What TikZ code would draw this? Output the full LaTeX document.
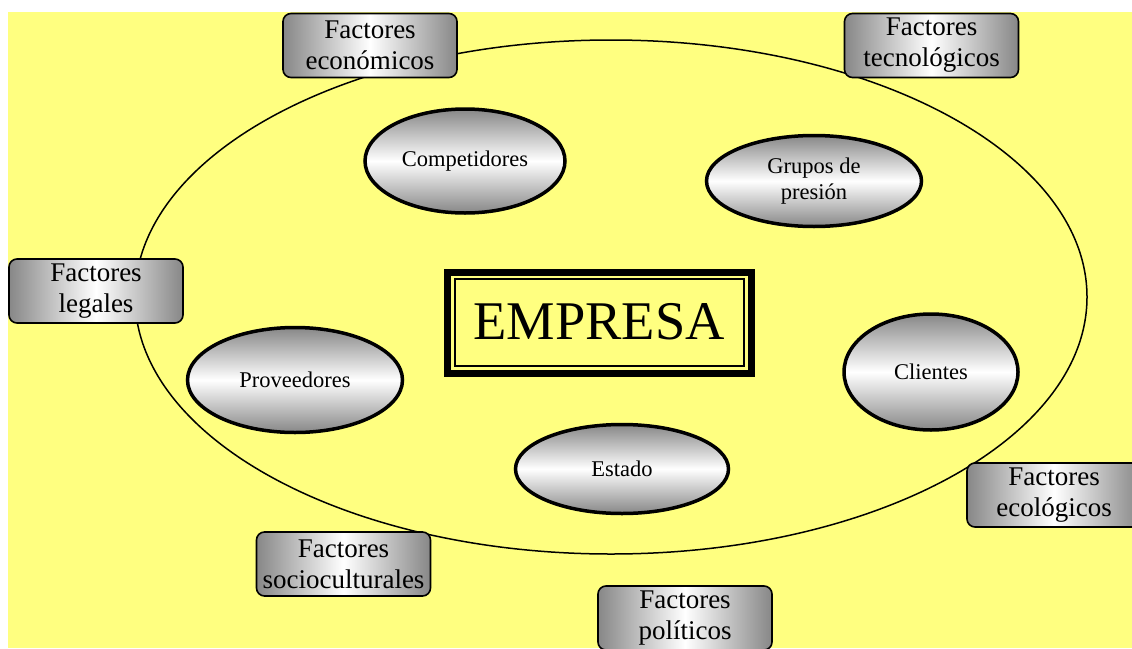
\documentclass[tikz,border=0pt]{standalone}
\usepackage{fontspec}
\setmainfont{Liberation Serif}
\usetikzlibrary{shapes.geometric}
\definecolor{bgyellow}{RGB}{255,255,128}
\definecolor{shadegray}{RGB}{135,135,135}
\tikzset{
  factorbox/.style={draw=black, line width=1.6pt, rounded corners=8pt,
    minimum width=174pt, minimum height=64pt, inner sep=0pt, align=center,
    left color=shadegray, right color=shadegray, middle color=white,
    font=\fontsize{27}{31}\selectfont},
  actor/.style={ellipse, draw=black, line width=3.5pt, inner sep=0pt, align=center,
    top color=shadegray, bottom color=shadegray, middle color=white,
    font=\fontsize{22.5}{26}\selectfont},
}
\begin{document}
\begin{tikzpicture}[x=1pt,y=-1pt]
\useasboundingbox (0,0) rectangle (1132,648);
\fill[white] (0,0) rectangle (1132,648);
\fill[bgyellow] (8,12) rectangle (1132,648);
% big environment ellipse
\draw[line width=1.5pt] (611,297) ellipse [x radius=476pt, y radius=257pt];
% EMPRESA frame
\draw[line width=7pt] (447,272) rectangle (751,373);
\draw[line width=1.5pt] (455,279) rectangle (744,366);
\node (empresa) at (599,322) {\fontsize{54.5}{60}\selectfont EMPRESA};
% inner actors
\node[actor, minimum width=200pt, minimum height=104pt] (competidores) at (465,161) {Competidores};
\node[actor, minimum width=215pt, minimum height=91pt] (grupos) at (814,181) {Grupos de\\presión};
\node[actor, minimum width=215pt, minimum height=105pt] (proveedores) at (295,380) {Proveedores};
\node[actor, minimum width=174pt, minimum height=116pt] (clientes) at (931,372) {Clientes};
\node[actor, minimum width=213pt, minimum height=89pt] (estado) at (622,469) {Estado};
% external factors
\node[factorbox] (economicos) at (370,45.5) {Factores\\económicos};
\node[factorbox] (tecnologicos) at (931.5,45.5) {Factores\\tecnológicos};
\node[factorbox] (legales) at (96,291) {Factores\\legales};
\node[factorbox] (ecologicos) at (1054,495) {Factores\\ecológicos};
\node[factorbox] (socioculturales) at (343.5,564) {Factores\\socioculturales};
\node[factorbox] (politicos) at (685,618) {Factores\\políticos};
\end{tikzpicture}
\end{document}
